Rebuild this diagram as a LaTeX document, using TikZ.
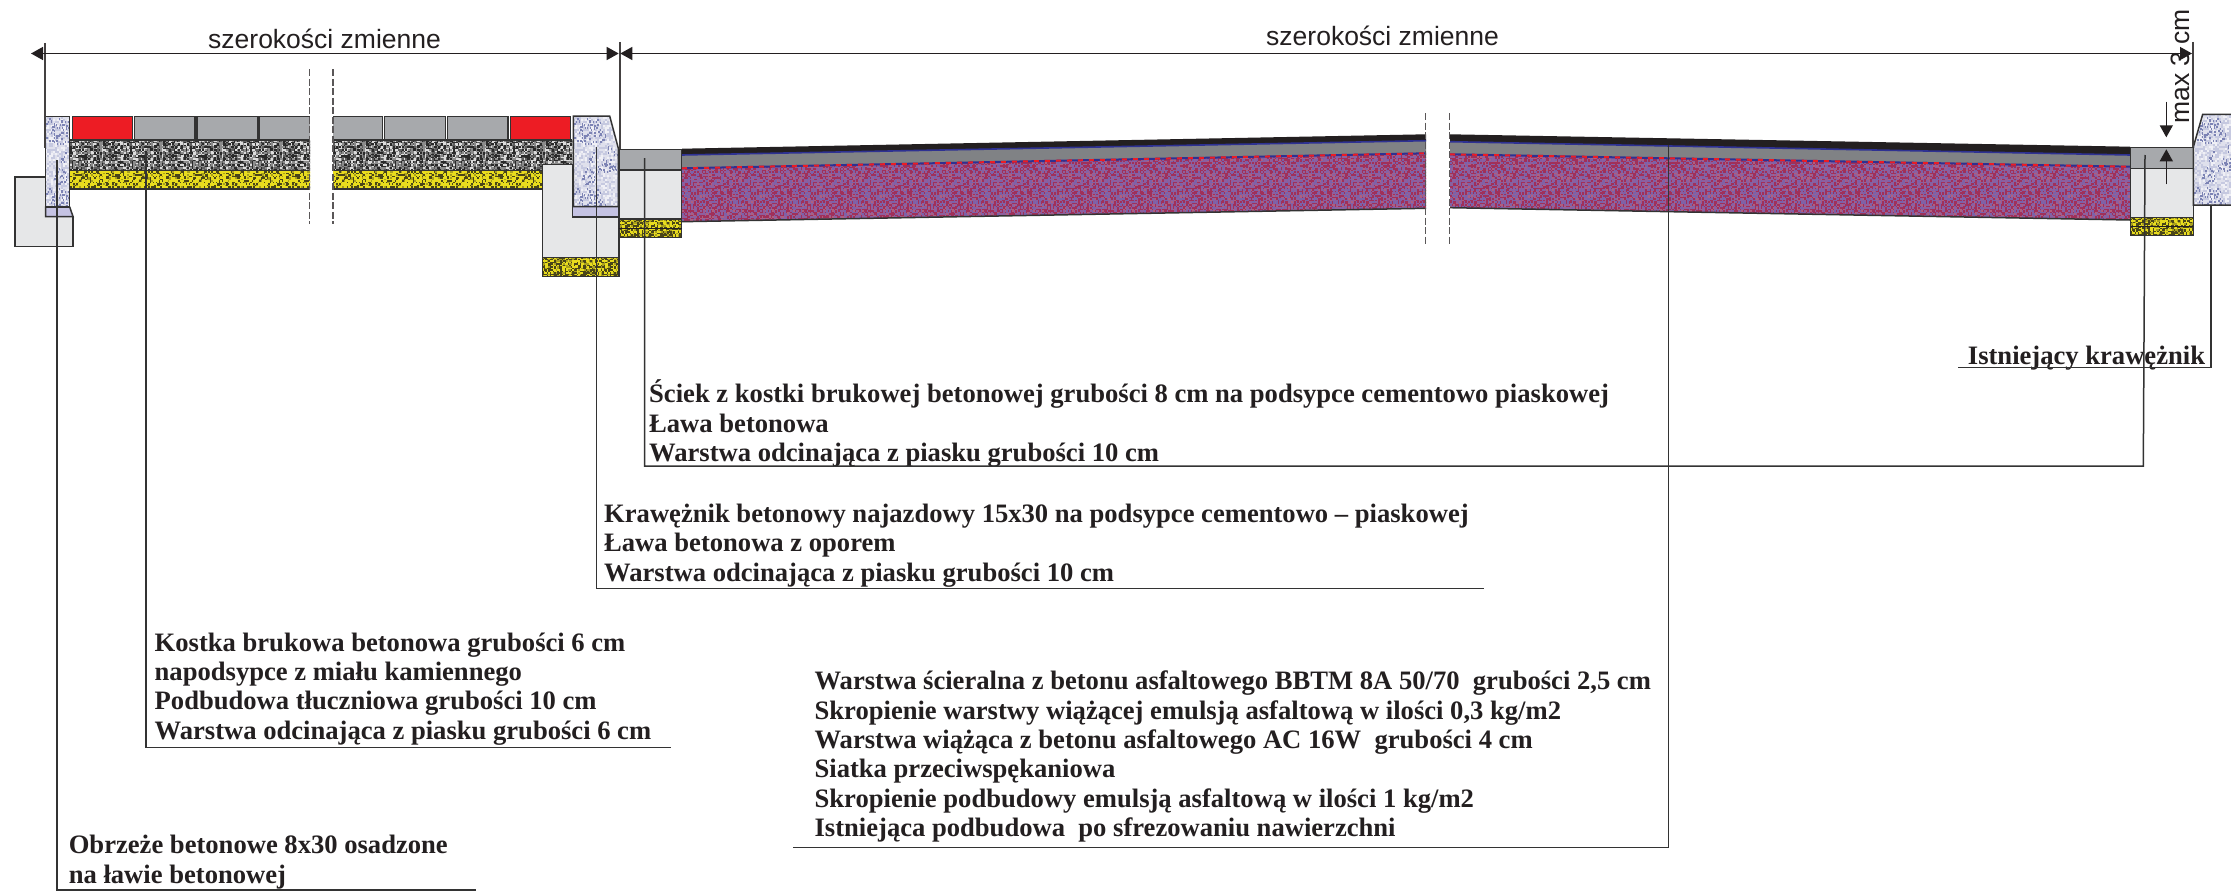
\documentclass[tikz,border=0pt]{standalone}
\usepackage{fontspec}
\setmainfont{Liberation Serif}
\newfontfamily\arialf{Liberation Sans}
\usetikzlibrary{arrows.meta}
\pgfmathsetseed{4242}
\definecolor{ink}{HTML}{231F20}
\definecolor{edge}{HTML}{333333}
\definecolor{paver}{HTML}{A7A9AC}
\definecolor{conc}{HTML}{E6E7E8}
\definecolor{lav}{HTML}{C5C3E3}
\definecolor{redp}{HTML}{ED1C24}
\definecolor{roadgrey}{HTML}{808285}
\definecolor{blueln}{HTML}{2E3192}
\newcommand\setpal[2]{\foreach \c [count=\n from 0] in {#2}{\expandafter\xglobal\expandafter\colorlet{#1\n}{\c}}}
\definecolor{a}{HTML}{2A2A2A}\definecolor{b}{HTML}{8C8C8C}\definecolor{w}{HTML}{DCDCDC}\definecolor{g}{HTML}{5E5E5E}
\definecolor{y}{HTML}{E8DC1E}\definecolor{d}{HTML}{4A4618}\definecolor{o}{HTML}{A9A01E}
\definecolor{p}{HTML}{8E5F9E}\definecolor{r}{HTML}{A0305A}\definecolor{v}{HTML}{7A62AA}\definecolor{m}{HTML}{AE607F}
\definecolor{k}{HTML}{DFE0EC}\definecolor{l}{HTML}{C6C9E0}\definecolor{n}{HTML}{F0F0F6}
\definecolor{bl}{HTML}{7C83B4}
\setpal{agg}{a,a,a,g,g,b,b,b,w,w}
\setpal{yel}{y,y,y,y,y,y,d,d,d,o}
\setpal{yew}{y,y,y,y,o,o,d,d,d,d}
\setpal{pur}{p,p,p,r,r,r,r,v,v,m}
\setpal{krb}{k,k,k,k,l,l,l,l,n,n}
% one tile of speckle, built once and repeated
\newcommand\mktile[4]{% box, palette, cells per side, cell size
  \newsavebox#1%
  \sbox#1{\begin{pgfpicture}%
    \pgfpathrectangle{\pgfpointorigin}{\pgfpoint{#3*#4pt}{#3*#4pt}}\pgfusepath{use as bounding box}%
    \foreach \i in {1,...,#3}{\foreach \j in {1,...,#3}{%
      \pgfmathrandominteger\rr{0}{9}%
      \pgfsetfillcolor{#2\rr}%
      \pgfpathrectangle{\pgfpoint{(\i-1)*#4pt}{(\j-1)*#4pt}}{\pgfpoint{#4pt+0.2pt}{#4pt+0.2pt}}%
      \pgfusepath{fill}}}%
    \expandafter\ifx\csname blotch#2\endcsname\relax\else
      \pgfsetfillcolor{bl}%
      \foreach \b in {1,...,30}{%
        \pgfmathrandominteger\bx{4}{62}\pgfmathrandominteger\by{4}{62}%
        \foreach \q in {1,...,7}{%
          \pgfmathrandominteger\ox{-3}{3}\pgfmathrandominteger\oy{-3}{3}%
          \pgfpathrectangle{\pgfpoint{\bx pt+\ox*1.5pt}{\by pt+\oy*1.5pt}}{\pgfqpoint{1.7pt}{1.7pt}}%
          \pgfusepath{fill}}}%
    \fi
  \end{pgfpicture}}}
\def\blotchkrb{1}
\mktile\tileagg{agg}{40}{1.5}
\mktile\tileyel{yel}{40}{1.5}
\mktile\tileyew{yew}{40}{1.5}
\mktile\tilepur{pur}{40}{1.5}
\mktile\tilekrb{krb}{35}{2}
% fill a clip path with a tile: box, tile size, x0, y0, x1, y1, path
\newcommand\matfill[7]{%
  \begin{scope}
    \clip #7;
    \pgfmathtruncatemacro\ncol{(#5-#3)/#2}%
    \pgfmathtruncatemacro\nrow{(#6-#4)/#2}%
    \foreach \ic in {0,...,\ncol}{\foreach \ir in {0,...,\nrow}{%
      \pgftext[at={\pgfpointxy{#3+\ic*#2}{#4+\ir*#2}},left,top]{\usebox#1}}}%
  \end{scope}}
\tikzset{
  part/.style={draw=edge,line width=1.5pt,line join=miter},
  dimline/.style={draw=ink,line width=1.4pt},
  tipboth/.style={{Triangle[length=12pt,width=13pt]}-{Triangle[length=12pt,width=13pt]}},
  tipend/.style={-{Triangle[length=12pt,width=13pt]}},
  guide/.style={draw=ink!85!white,line width=1.6pt},
  leader/.style={draw=edge,line width=1.5pt},
  breakline/.style={draw=ink!75!white,line width=1.3pt,dash pattern=on 7pt off 2.5pt},
  title/.style={inner sep=0pt,anchor=base west,text=ink,font=\arialf\fontsize{26.5}{30}\selectfont},
  lbl/.style={inner sep=0pt,anchor=base west,align=left,text=ink,font=\bfseries\fontsize{26.6}{29.4}\selectfont},
}
\begin{document}
\begin{tikzpicture}[x=1pt,y=-1pt]
\useasboundingbox (0,0) rectangle (2231,891);
\fill[white] (0,0) rectangle (2231,891);
% ---- left footing and edging
\filldraw[part,fill=conc] (15,177) -- (46,177) -- (46,216.5) -- (73,216.5) -- (73,246.7) -- (15,246.7) -- cycle;
\filldraw[part,fill=lav] (45.5,207) -- (69.7,207) -- (73,216.5) -- (45.5,216.5) -- cycle;
\matfill\tilekrb{70}{45}{115}{70}{207}{(45.5,116.7) rectangle (69.7,206.7)}
\draw[part] (45.5,116.7) rectangle (69.7,206.7);
% ---- pavement
\matfill\tileagg{60}{70}{140}{310}{171}{(70,140) rectangle (310,170)}
\matfill\tileagg{60}{333}{140}{573}{171}{(333,140) rectangle (572.3,170)}
\matfill\tileyel{60}{70}{171}{310}{190}{(70,171) rectangle (310,189)}
\matfill\tileyel{60}{333}{171}{543}{190}{(333,171) rectangle (542,189)}
\draw[edge,line width=1.5pt] (70,170.5) -- (310,170.5) (333,170.5) -- (572,170.5);
\draw[edge,line width=1.5pt] (70,189) -- (310,189) (333,189) -- (542,189);
\draw[edge,line width=1.5pt] (70,140) -- (310,140) (333,140) -- (572,140);
\filldraw[part,fill=redp] (72.3,116.7) rectangle (132.7,140);
\filldraw[part,fill=paver] (134.3,116.7) rectangle (195,140);
\filldraw[part,fill=paver] (197,116.7) rectangle (258,140);
\filldraw[part,fill=paver] (310,140) -- (259.3,140) -- (259.3,116.7) -- (310,116.7);
\filldraw[part,fill=paver] (333,116.7) -- (382.7,116.7) -- (382.7,140) -- (333,140);
\filldraw[part,fill=paver] (384.3,116.7) rectangle (445.7,140);
\filldraw[part,fill=paver] (447.3,116.7) rectangle (508,140);
\filldraw[part,fill=redp] (510.3,116.7) rectangle (570.7,140);
% ---- kerb and footing at the carriageway edge
\filldraw[part,fill=conc] (542.3,164.3) -- (572.7,164.3) -- (572.7,217) -- (619,217) -- (619,257.5) -- (542.3,257.5) -- cycle;
\matfill\tileyew{60}{542}{257}{620}{277}{(542.3,257.5) rectangle (619,276.7)}
\draw[part] (542.3,257.5) rectangle (619,276.7);
\filldraw[part,fill=lav] (572.7,206.7) rectangle (618.3,217);
\matfill\tilekrb{70}{573}{115}{619}{207}{(573.3,116) -- (609.7,116) -- (618.3,148.3) -- (618.3,206.7) -- (573.3,206.7) -- cycle}
\draw[part] (573.3,116) -- (609.7,116) -- (618.3,148.3) -- (618.3,206.7) -- (573.3,206.7) -- cycle;
% ---- gutter, left
\filldraw[part,fill=paver] (619,149.5) rectangle (681.7,170);
\filldraw[part,fill=conc] (619,170) rectangle (681.7,219);
\matfill\tileyew{60}{619}{219}{682}{238}{(619,219) rectangle (681.7,237.3)}
\draw[part] (619,219) rectangle (681.7,237.3);
\draw[ink,line width=1pt] (619,228) -- (681.7,228);
% ---- carriageway
\matfill\tilepur{60}{682}{150}{1426}{225}{(682,168.3) -- (1426,153.3) -- (1426,208.3) -- (682,221.7) -- cycle}
\matfill\tilepur{60}{1450}{150}{2130}{225}{(1450,154.3) -- (2130,166.7) -- (2130,220) -- (1450,207.7) -- cycle}
\draw[edge,line width=1.5pt] (682,221.7) -- (1426,208.3) (1450,207.7) -- (2130,220);
\fill[roadgrey] (682,155) -- (1426,140.7) -- (1426,153.3) -- (682,168.3) -- cycle;
\fill[roadgrey] (1450,141.7) -- (2130,155) -- (2130,166.7) -- (1450,154.3) -- cycle;
\fill[ink] (682,148.7) -- (1426,134.3) -- (1426,140.7) -- (682,155) -- cycle;
\fill[ink] (1450,134.3) -- (2130,146.7) -- (2130,155) -- (1450,141.7) -- cycle;
\draw[blueln,line width=1.6pt] (682,155) -- (1426,140.7) (1450,141.7) -- (2130,155);
\draw[blueln,line width=2pt] (682,168.3) -- (1426,153.3) (1450,154.3) -- (2130,166.7);
\draw[redp,line width=2pt,dash pattern=on 5pt off 6pt] (682,168.3) -- (1426,153.3) (1450,154.3) -- (2130,166.7);
% ---- gutter, right
\filldraw[part,fill=paver] (2130.7,147.7) rectangle (2193.3,168.3);
\filldraw[part,fill=conc] (2130.7,168.3) rectangle (2193.3,217.3);
\matfill\tileyew{60}{2130}{217}{2194}{236}{(2130.7,217.3) rectangle (2193.3,235.7)}
\draw[part] (2130.7,217.3) rectangle (2193.3,235.7);
\draw[ink,line width=1pt] (2130.7,226.5) -- (2193.3,226.5);
% ---- existing kerb
\matfill\tilekrb{70}{2193}{114}{2231}{206}{(2193.3,147) -- (2202.7,114.3) -- (2231,114.3) -- (2231,205) -- (2193.3,205) -- cycle}
\draw[part] (2231,114.3) -- (2202.7,114.3) -- (2193.3,147) -- (2193.3,205) -- (2231,205);
% ---- break lines
\draw[breakline] (309.7,69.3) -- (309.7,224);
\draw[breakline] (333,69.3) -- (333,224);
\draw[breakline] (1425.7,113) -- (1425.7,244);
\draw[breakline] (1449.7,113) -- (1449.7,244);
% ---- dimension lines
\coordinate (dA) at (31,53.5);
\coordinate (dB) at (618.7,53.5);
\coordinate (dC) at (620.3,53.5);
\coordinate (dD) at (2192,53.5);
\coordinate (gA1) at (44.7,43);   \coordinate (gA2) at (44.7,148);
\coordinate (gB1) at (619.7,42);  \coordinate (gB2) at (619.7,149);
\coordinate (gC1) at (2192.7,42); \coordinate (gC2) at (2192.7,147);
\draw[guide] (gA1) -- (gA2);
\draw[guide] (gB1) -- (gB2);
\draw[guide] (gC1) -- (gC2);
\draw[dimline,tipboth] (dA) -- (dB);
\draw[dimline,tipboth] (dC) -- (dD);
\node[title] (tL) at (208,48.5) {szerokości zmienne};
\node[title] (tR) at (1266,46) {szerokości zmienne};
\node[title,rotate=90] (tM) at (2189,124) {max 3 cm};
\coordinate (mA1) at (2166.3,101.7); \coordinate (mA2) at (2166.3,137.3);
\coordinate (mB1) at (2166.3,184.3); \coordinate (mB2) at (2166.3,149.3);
\draw[dimline,tipend] (mA1) -- (mA2);
\draw[dimline,tipend] (mB1) -- (mB2);
% ---- labels (anchored on the baseline of their last line)
\node[lbl] (nObrz) at (68.6,883) {Obrzeże betonowe 8x30 osadzone\\na ławie betonowej};
\node[lbl] (nKost) at (154.5,739.3) {Kostka brukowa betonowa grubości 6 cm\\napodsypce z miału kamiennego\\Podbudowa tłuczniowa grubości 10 cm\\Warstwa odcinająca z piasku grubości 6 cm};
\node[lbl] (nKraw) at (604,581) {Krawężnik betonowy najazdowy 15x30 na podsypce cementowo – piaskowej\\Ława betonowa z oporem\\Warstwa odcinająca z piasku grubości 10 cm};
\node[lbl] (nScie) at (649,461.7) {Ściek z kostki brukowej betonowej grubości 8 cm na podsypce cementowo piaskowej\\Ława betonowa\\Warstwa odcinająca z piasku grubości 10 cm};
\node[lbl] (nAsf) at (814.4,836.7) {Warstwa ścieralna z betonu asfaltowego BBTM 8A 50/70\ \ grubości 2,5 cm\\Skropienie warstwy wiążącej emulsją asfaltową w ilości 0,3 kg/m2\\Warstwa wiążąca z betonu asfaltowego AC 16W\ \ grubości 4 cm\\Siatka przeciwspękaniowa\\Skropienie podbudowy emulsją asfaltową w ilości 1 kg/m2\\Istniejąca podbudowa\ \ po sfrezowaniu nawierzchni};
\node[lbl] (nIst) at (1967.7,364.3) {Istniejący krawężnik};
% ---- leaders
\coordinate (aObrz) at (57,160);     \coordinate (bObrz) at (57,890);     \coordinate (cObrz) at (475.6,890);
\coordinate (aKost) at (146,152);    \coordinate (bKost) at (146,747.7);  \coordinate (cKost) at (670.5,747.7);
\coordinate (aKraw) at (596.3,146.7);\coordinate (bKraw) at (596.3,588.3);\coordinate (cKraw) at (1484.4,588.3);
\coordinate (aScie) at (644.5,158);  \coordinate (bScie) at (644.5,466);  \coordinate (cScie) at (2143.3,466); \coordinate (dScie) at (2145,155);
\coordinate (aAsf) at (1668.6,145);  \coordinate (bAsf) at (1668.6,847.3);\coordinate (cAsf) at (792.6,847.3);
\coordinate (aIst) at (2211,205);    \coordinate (bIst) at (2211,367.7);  \coordinate (cIst) at (1957.7,367.7);
\draw[leader] (aObrz) -- (bObrz) -- (cObrz);
\draw[leader] (aKost) -- (bKost) -- (cKost);
\draw[leader] (aKraw) -- (bKraw) -- (cKraw);
\draw[leader] (aScie) -- (bScie) -- (cScie) -- (dScie);
\draw[leader] (aAsf) -- (bAsf) -- (cAsf);
\draw[leader] (aIst) -- (bIst) -- (cIst);
\end{tikzpicture}
\end{document}
